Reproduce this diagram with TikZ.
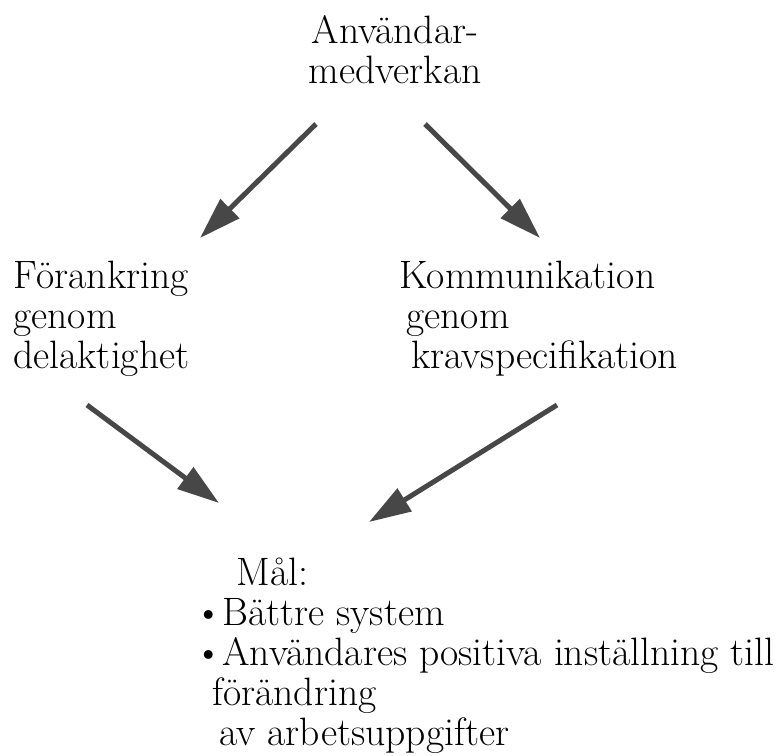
\documentclass[tikz,border=0pt]{standalone}
\usetikzlibrary{arrows.meta}

\begin{document}
\begin{tikzpicture}
  [x=0.5pt,y=-0.5pt,
   pil/.style={line width=2.5pt,draw=black!72,-{Triangle[length=21pt,width=13pt,fill=black!72]}},
   txt/.style={inner sep=0pt,align=left,text=black,font=\fontsize{19.8}{20}\selectfont}]
  \useasboundingbox (0,0) rectangle (780,755);

  \node[txt,align=center,anchor=base] (medverkan) at (395,83) {Användar-\\medverkan};
  \node[txt,anchor=base west] (forankring) at (13,368) {Förankring\\genom\\delaktighet};
  \node[txt,anchor=base west] (kommunikation) at (399,368)
    {Kommunikation\\\hspace*{3.5pt}genom\\\hspace*{6pt}kravspecifikation};
  \node[txt,anchor=base west] (mal) at (194,745)
    {\hspace*{21pt}Mål:\\
     \makebox[14pt][l]{\textbullet}Bättre system\\
     \makebox[14pt][l]{\textbullet}Användares positiva inställning till\\
     \hspace*{9pt}förändring\\
     \hspace*{12.5pt}av arbetsuppgifter};

  % arrow ends
  \coordinate (m1) at (316,124);  \coordinate (f1) at (200,238);
  \coordinate (m2) at (425,124);  \coordinate (k1) at (540,238);
  \coordinate (f2) at (87,405);   \coordinate (g1) at (219,503);
  \coordinate (k2) at (557,405);  \coordinate (g2) at (369,522);

  \draw[pil] (m1) -- (f1);
  \draw[pil] (m2) -- (k1);
  \draw[pil] (f2) -- (g1);
  \draw[pil] (k2) -- (g2);
\end{tikzpicture}
\end{document}
